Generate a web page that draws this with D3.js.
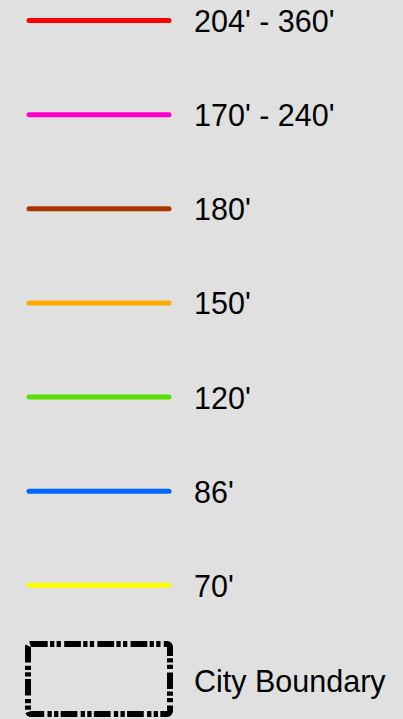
<!DOCTYPE html>
<html>
<head>
<meta charset="utf-8">
<script src="https://cdn.jsdelivr.net/npm/d3@7"></script>
<style>
html,body{margin:0;padding:0;background:#e0e0e0;overflow:hidden;}
svg{display:block;}
</style>
</head>
<body>
<svg id="chart" width="403" height="719"></svg>
<script>
const labels = ["204' - 360'", "170' - 240'", "180'", "150'", "120'", "86'", "70'"];
const colors = ["#ff0000", "#ff00cc", "#aa3300", "#ffaa00", "#55e000", "#0066ff", "#ffff00"];
const boundaryLabel = "City Boundary";

const svg = d3.select("#chart");
svg.append("rect").attr("width", 403).attr("height", 719).attr("fill", "#e0e0e0");

const y = d3.scalePoint().domain(d3.range(labels.length + 1)).range([20, 679]);

const rows = svg.selectAll("g.row").data(labels).join("g")
  .attr("class", "row")
  .attr("transform", (d, i) => `translate(0,${y(i)})`);

rows.append("line")
  .attr("x1", 29).attr("x2", 169).attr("y1", 0.5).attr("y2", 0.5)
  .attr("stroke", (d, i) => colors[i])
  .attr("stroke-width", 5)
  .attr("stroke-linecap", "round");

rows.append("text")
  .attr("x", 194).attr("y", 12)
  .attr("font-family", "Liberation Sans, Arial, sans-serif")
  .attr("font-size", 30.5)
  .attr("fill", "#000")
  .text(d => d);

const b = svg.append("g").attr("transform", `translate(0,${y(labels.length)})`);
b.append("rect")
  .attr("x", 28).attr("y", -35).attr("width", 142).attr("height", 70)
  .attr("rx", 3)
  .attr("fill", "none")
  .attr("stroke", "#000")
  .attr("stroke-width", 6)
  .attr("stroke-dasharray", "16.7,2.3,4.3,2.3,4.3,3.3");
b.append("text")
  .attr("x", 194).attr("y", 13)
  .attr("font-family", "Liberation Sans, Arial, sans-serif")
  .attr("font-size", 30.5)
  .attr("fill", "#000")
  .text(boundaryLabel);
</script>
</body>
</html>
